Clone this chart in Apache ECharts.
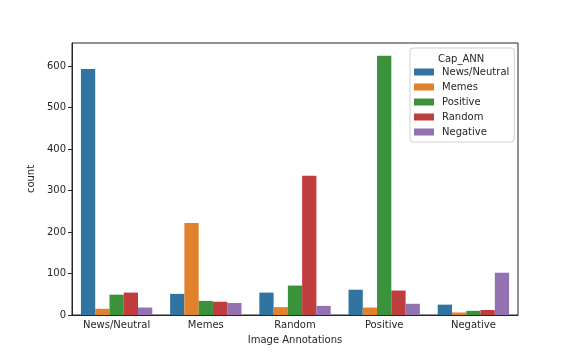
<!DOCTYPE html>
<html>
<head>
<meta charset="utf-8">
<script src="https://cdn.jsdelivr.net/npm/echarts@6/dist/echarts.min.js"></script>
<style>
  html, body { margin: 0; padding: 0; background: #fff; }
  #chart { width: 576px; height: 360px; }
</style>
</head>
<body>
<div id="chart"></div>
<script>
// x categories (Image Annotations)
const categories = ['News/Neutral', 'Memes', 'Random', 'Positive', 'Negative']
// hue groups (Cap_ANN)
const seriesNames = ['News/Neutral', 'Memes', 'Positive', 'Random', 'Negative']
const newsNeutral = [593, 51, 54, 61, 25]
const memes = [15, 222, 19, 18, 6]
const positive = [49, 34, 71, 625, 10]
const random = [54, 32, 336, 59, 12]
const negative = [18, 29, 22, 27, 102]
const colors = ['#3274a1', '#e1812c', '#3a923a', '#c03d3e', '#9372b2']

const textColor = '#262626'
const font = 'DejaVu Sans'

const chart = echarts.init(document.getElementById('chart'))
const seriesData = [newsNeutral, memes, positive, random, negative]

chart.setOption({
  animation: false,
  color: colors,
  textStyle: { fontFamily: font },
  title: {
    text: 'Cap_ANN',
    left: 433,
    top: 49,
    textStyle: { fontSize: 10, fontWeight: 'normal', color: textColor, fontFamily: font }
  },
  legend: {
    orient: 'vertical',
    left: 410,
    top: 48,
    padding: [19, 5, 5, 4],
    itemWidth: 20,
    itemHeight: 7,
    itemGap: 5,
    backgroundColor: '#fff',
    borderColor: '#d0d0d0',
    borderWidth: 1,
    borderRadius: 3,
    textStyle: { fontSize: 10, color: textColor, fontFamily: font, padding: [0, 0, 0, 3] },
    itemStyle: { borderWidth: 0 },
    data: seriesNames.map(n => ({ name: n, icon: 'rect' }))
  },
  grid: {
    left: 72,
    right: 58,
    top: 43,
    bottom: 45,
    show: true,
    borderColor: textColor,
    borderWidth: 1,
    backgroundColor: 'transparent'
  },
  xAxis: {
    type: 'category',
    data: categories,
    name: 'Image Annotations',
    nameLocation: 'middle',
    nameGap: 20,
    nameTextStyle: { fontSize: 10, color: textColor },
    axisLine: { lineStyle: { color: textColor, width: 1 } },
    axisTick: { alignWithLabel: true, length: 4, lineStyle: { color: textColor } },
    axisLabel: { fontSize: 10, color: textColor, margin: 5 },
    splitLine: { show: false }
  },
  yAxis: {
    type: 'value',
    min: 0,
    max: 656,
    interval: 100,
    name: 'count',
    nameLocation: 'middle',
    nameGap: 28,
    nameTextStyle: { fontSize: 10, color: textColor },
    axisLine: { show: true, lineStyle: { color: textColor, width: 1 } },
    axisTick: { show: true, length: 4, lineStyle: { color: textColor } },
    axisLabel: { fontSize: 10, color: textColor, margin: 6, showMaxLabel: false },
    splitLine: { show: false }
  },
  series: seriesNames.map((name, i) => ({
    name: name,
    type: 'bar',
    data: seriesData[i],
    barWidth: '16%',
    barGap: '0%',
    barCategoryGap: '20%',
    itemStyle: { color: colors[i] }
  }))
})
</script>
</body>
</html>
